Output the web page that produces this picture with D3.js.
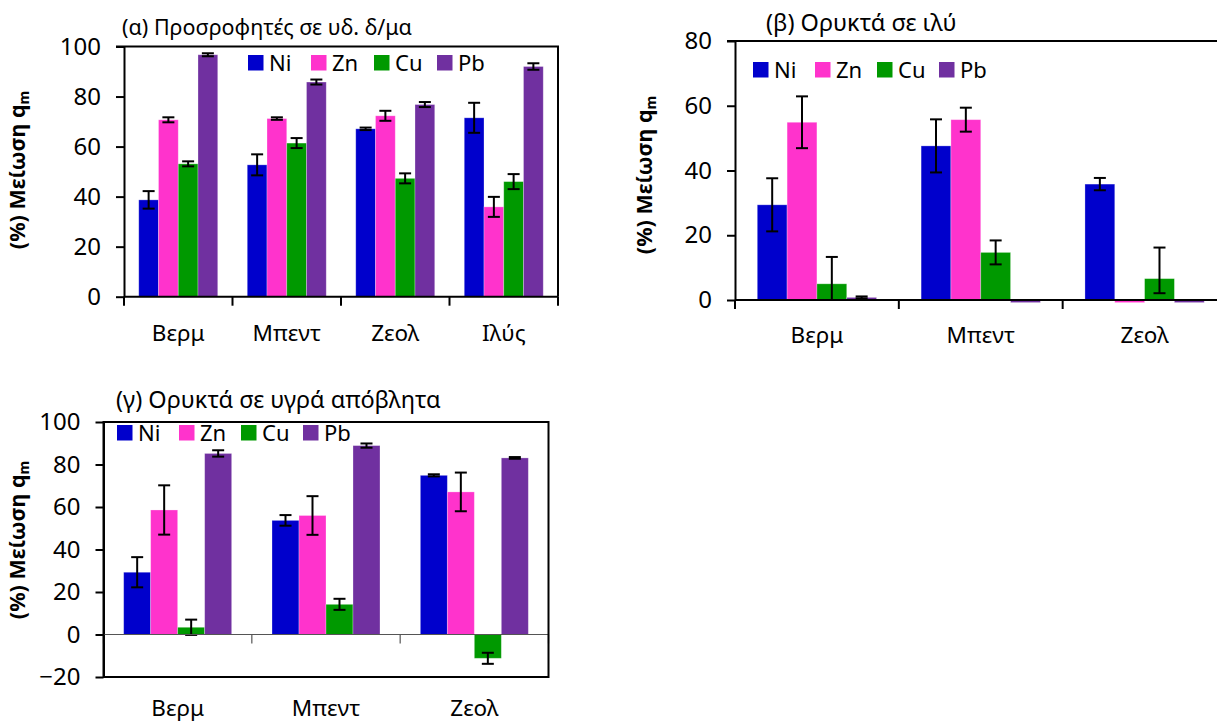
<!DOCTYPE html>
<html><head><meta charset="utf-8">
<script src="https://cdn.jsdelivr.net/npm/d3@7"></script>
<style>body{margin:0;background:#fff}svg{display:block}</style>
</head><body>
<svg id="c" width="1217" height="722"></svg>
<script>
// ---------- DATA ----------
const seriesNames = ["Ni", "Zn", "Cu", "Pb"];
const seriesColors = ["#0000CC", "#FF33CC", "#009900", "#7030A0"];

// (α)
const aCats = ["Βερμ", "Μπεντ", "Ζεολ", "Ιλύς"];
const aNi = [38.7, 52.7, 67.1, 71.5], aNiErr = [3.5, 4.2, 0.5, 6.0];
const aZn = [70.7, 71.2, 72.3, 35.9], aZnErr = [1.0, 0.5, 2.0, 4.0];
const aCu = [53.1, 61.4, 47.3, 46.0], aCuErr = [1.0, 2.0, 2.0, 3.0];
const aPb = [96.7, 85.8, 76.8, 92.0], aPbErr = [0.6, 1.0, 1.0, 1.3];
const aTicks = [0, 20, 40, 60, 80, 100];

// (β)
const bCats = ["Βερμ", "Μπεντ", "Ζεολ"];
const bNi = [29.4, 47.6, 35.8], bNiErr = [8.2, 8.2, 1.9];
const bZn = [54.9, 55.7, -0.8], bZnErr = [8.0, 3.7, 0];
const bCu = [5.0, 14.7, 6.6], bCuErrUp = [8.3, 3.7, 9.6], bCuErrDown = [5.0, 3.7, 4.5];
const bPb = [0.8, -0.8, -0.8], bPbErr = [0.3, 0, 0];
const bTicks = [0, 20, 40, 60, 80];

// (γ)
const gCats = ["Βερμ", "Μπεντ", "Ζεολ"];
const gNi = [29.3, 53.7, 74.9], gNiErr = [7.1, 2.5, 0.5];
const gZn = [58.6, 56.0, 67.1], gZnErr = [11.6, 9.1, 9.1];
const gCu = [3.4, 14.2, -11.2], gCuErr = [3.6, 2.6, 2.6];
const gPb = [85.2, 88.9, 83.1], gPbErr = [1.5, 1.0, 0.4];
const gTicks = [-20, 0, 20, 40, 60, 80, 100];

const titles = ["(α) Προσροφητές σε υδ. δ/μα", "(β) Ορυκτά σε ιλύ", "(γ) Ορυκτά σε υγρά απόβλητα"];
const yLabelMain = "(%) Μείωση q", yLabelSub = "m";

// ---------- DRAW ----------
const FONT = "'Noto Sans', 'DejaVu Sans', sans-serif";
const svg = d3.select("#c");

function panel(cfg) {
  const g = svg.append("g");
  const x = d3.scaleBand().domain(cfg.cats).range([cfg.x0, cfg.x1]).padding(0);
  const bw = x.bandwidth();
  const gap = bw * 0.136;
  const xs = d3.scaleBand().domain(seriesNames).range([gap, bw - gap]).padding(0);
  const y = d3.scaleLinear().domain(cfg.domain).range([cfg.yBot, cfg.yTop]);

  // bars
  cfg.series.forEach((s, si) => {
    const name = seriesNames[si];
    g.selectAll(null).data(cfg.cats).enter().append("rect")
      .attr("x", c => x(c) + xs(name))
      .attr("width", xs.bandwidth())
      .attr("y", (c, i) => y(Math.max(0, s.v[i])))
      .attr("height", (c, i) => Math.abs(y(s.v[i]) - y(0)))
      .attr("fill", seriesColors[si])
      .attr("stroke", "rgba(255,255,255,0.35)").attr("stroke-width", 0.8);
  });
  // error bars
  cfg.series.forEach((s, si) => {
    const name = seriesNames[si];
    cfg.cats.forEach((c, i) => {
      const up = s.up[i], dn = s.dn[i];
      if (!up && !dn) return;
      const cx = x(c) + xs(name) + xs.bandwidth() / 2;
      const yt = y(s.v[i] + up), yb = y(s.v[i] - dn);
      g.append("line").attr("x1", cx).attr("x2", cx).attr("y1", yt).attr("y2", yb)
        .attr("stroke", "#000").attr("stroke-width", 2);
      [yt, yb].forEach(yy => g.append("line").attr("x1", cx - 6).attr("x2", cx + 6)
        .attr("y1", yy).attr("y2", yy).attr("stroke", "#000").attr("stroke-width", 2));
    });
  });

  // y axis
  const ya = d3.axisLeft(y).tickValues(cfg.ticks).tickSize(8).tickSizeOuter(0).tickPadding(15);
  const yg = g.append("g").attr("transform", `translate(${cfg.x0},0)`).call(ya);
  yg.select(".domain").attr("stroke", "#000").attr("stroke-width", 2);
  yg.selectAll(".tick line").attr("stroke", "#000").attr("stroke-width", 2);
  yg.selectAll(".tick text").attr("font-family", FONT).attr("font-size", 24).attr("fill", "#000");

  // x axis line at zero and category ticks
  const bounds = cfg.cats.map(c => x(c)).concat([cfg.x1]);
  const thin = cfg.boxed;
  g.append("line").attr("x1", cfg.x0).attr("x2", cfg.x1).attr("y1", y(0)).attr("y2", y(0))
    .attr("stroke", thin ? "#555" : "#000").attr("stroke-width", thin ? 1.2 : 2);
  g.selectAll(null).data(bounds).enter().append("line")
    .attr("x1", d => d).attr("x2", d => d)
    .attr("y1", y(0)).attr("y2", y(0) + 9)
    .attr("stroke", thin ? "#555" : "#000").attr("stroke-width", thin ? 1.2 : 2);

  // frame
  if (cfg.boxed) {
    g.append("rect").attr("x", cfg.x0).attr("y", cfg.yTop).attr("width", cfg.x1 - cfg.x0)
      .attr("height", cfg.yBot - cfg.yTop).attr("fill", "none").attr("stroke", "#000").attr("stroke-width", 2);
  } else {
    g.append("path").attr("d", `M${cfg.x0 - 8},${cfg.yTop}H${cfg.x1}V${y(0)}`)
      .attr("fill", "none").attr("stroke", "#000").attr("stroke-width", 2);
  }

  // category labels
  g.selectAll(null).data(cfg.cats).enter().append("text")
    .attr("x", c => x(c) + bw / 2).attr("y", cfg.catY)
    .attr("text-anchor", "middle").attr("font-family", FONT).attr("font-size", 22.5)
    .text(c => c);

  // title
  g.append("text").attr("x", cfg.titleX).attr("y", cfg.titleY)
    .attr("font-family", FONT).attr("font-size", cfg.titleSize).text(cfg.title);

  // legend
  const lg = g.append("g").attr("transform", `translate(${cfg.legX},${cfg.legY})`);
  seriesNames.forEach((n, i) => {
    const e = lg.append("g").attr("transform", `translate(${i * cfg.legStep},0)`);
    e.append("rect").attr("x", 0).attr("y", -8).attr("width", 15.5).attr("height", 15.5).attr("fill", seriesColors[i]);
    e.append("text").attr("x", 21).attr("y", 8).attr("font-family", FONT).attr("font-size", 22).text(n);
  });

  // y label
  const t = g.append("text").attr("transform", `translate(${cfg.ylX},${cfg.ylY}) rotate(-90)`)
    .attr("text-anchor", "middle").attr("font-family", FONT).attr("font-weight", "bold").attr("font-size", 21.5);
  t.append("tspan").text(yLabelMain);
  t.append("tspan").attr("font-size", 14).attr("dy", 4).text(yLabelSub);
}

function mk(v, e, eDn) { return { v: v, up: e, dn: eDn || e }; }

panel({
  cats: aCats, series: [mk(aNi, aNiErr), mk(aZn, aZnErr), mk(aCu, aCuErr), mk(aPb, aPbErr)],
  x0: 124, x1: 558, yTop: 46.5, yBot: 296.7, domain: [0, 100], ticks: aTicks, boxed: false,
  catY: 341, title: titles[0], titleX: 122, titleY: 35, titleSize: 21.5,
  legX: 248, legY: 63, legStep: 63, ylX: 25, ylY: 170
});
panel({
  cats: bCats, series: [mk(bNi, bNiErr), mk(bZn, bZnErr), mk(bCu, bCuErrUp, bCuErrDown), mk(bPb, bPbErr)],
  x0: 735, x1: 1226.5, yTop: 41, yBot: 300, domain: [0, 80], ticks: bTicks, boxed: false,
  catY: 343, title: titles[1], titleX: 766, titleY: 31, titleSize: 23.5,
  legX: 753, legY: 70, legStep: 62, ylX: 652, ylY: 175
});
panel({
  cats: gCats, series: [mk(gNi, gNiErr), mk(gZn, gZnErr), mk(gCu, gCuErr), mk(gPb, gPbErr)],
  x0: 103.5, x1: 548.5, yTop: 422, yBot: 677, domain: [-20, 100], ticks: gTicks, boxed: true,
  catY: 716, title: titles[2], titleX: 116, titleY: 408, titleSize: 23.5,
  legX: 117, legY: 433, legStep: 62, ylX: 25, ylY: 540
});
</script>
</body></html>
